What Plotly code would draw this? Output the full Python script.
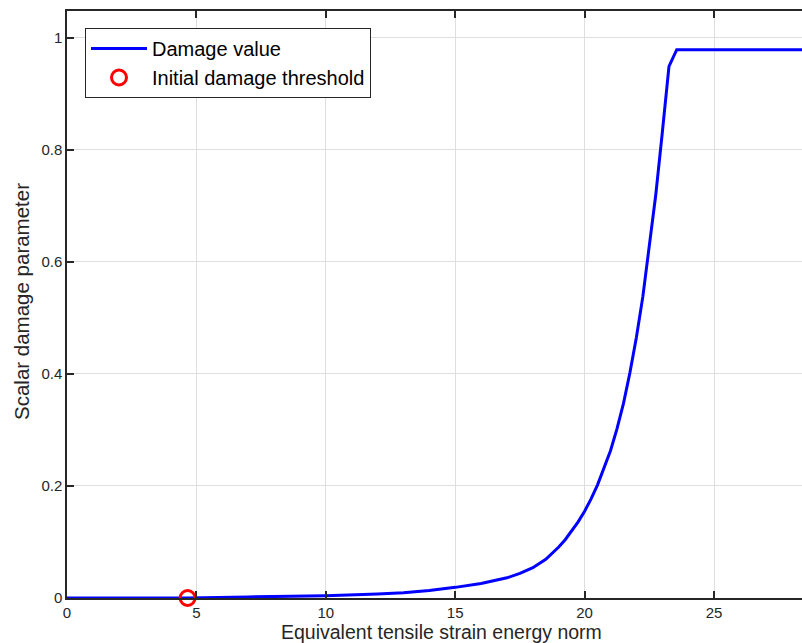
import plotly.graph_objects as go

# Data
strain_norm = [0, 4.66, 7, 10, 12, 13, 14, 15, 16, 17, 17.5, 18, 18.5,
               19, 19.25, 19.5, 19.75, 20, 20.25, 20.5, 20.75, 21, 21.25, 21.5, 21.75,
               22, 22.25, 22.5, 22.75, 23, 23.13, 23.26, 23.56, 28.6]
damage = [0, 0, 0.002, 0.004, 0.007, 0.0095, 0.0135, 0.019, 0.026, 0.036, 0.044, 0.054, 0.069,
          0.091, 0.104, 0.119, 0.136, 0.155, 0.177, 0.202, 0.231, 0.263, 0.302, 0.347, 0.402,
          0.465, 0.538, 0.625, 0.72, 0.83, 0.89, 0.949, 0.979, 0.979]
threshold_x = [4.66]
threshold_y = [0]

x_ticks = [0, 5, 10, 15, 20, 25]
y_ticks = [0, 0.2, 0.4, 0.6, 0.8, 1]
y_tick_labels = ["0", "0.2", "0.4", "0.6", "0.8", "1"]

W, H = 802, 643
ML, MR, MT, MB = 67, 0, 11, 45
PW, PH = W - ML - MR, H - MT - MB
axis_col = "#262626"
font = "Liberation Sans, Arial, Helvetica, sans-serif"

fig = go.Figure()
fig.add_trace(go.Scatter(x=strain_norm, y=damage, mode="lines", name="Damage value",
                         line=dict(color="#0000FF", width=3)))
fig.add_trace(go.Scatter(x=threshold_x, y=threshold_y, mode="markers",
                         name="Initial damage threshold",
                         marker=dict(symbol="circle-open", size=15, color="#FF0000",
                                     line=dict(width=3, color="#FF0000")),
                         cliponaxis=False))

fig.update_layout(
    width=W, height=H,
    margin=dict(l=ML, r=MR, t=MT, b=MB),
    paper_bgcolor="white", plot_bgcolor="white",
    font=dict(family=font, color=axis_col, size=15),
    showlegend=True,
    legend=dict(x=(85 - ML) / PW, y=1 - (28 - MT) / PH,
                xanchor="left", yanchor="top",
                bgcolor="white", bordercolor=axis_col, borderwidth=1,
                font=dict(size=20, color="black"),
                tracegroupgap=0, itemwidth=56),
    xaxis=dict(range=[0, 28.4], tickvals=x_ticks, ticktext=[str(t) for t in x_ticks],
               showgrid=True, gridcolor="#dedede", gridwidth=1,
               showline=True, linecolor=axis_col, linewidth=1.5, mirror="ticks",
               ticks="inside", ticklen=7, tickcolor=axis_col, tickwidth=1.5,
               ticklabelstandoff=0,
               tickfont=dict(size=15, color=axis_col), zeroline=False),
    yaxis=dict(range=[0, 1.048], tickvals=y_ticks, ticktext=y_tick_labels,
               showgrid=True, gridcolor="#dedede", gridwidth=1,
               showline=True, linecolor=axis_col, linewidth=1.5, mirror=False,
               ticks="inside", ticklen=7, tickcolor=axis_col, tickwidth=1.5,
               tickfont=dict(size=15, color=axis_col), zeroline=False),
    annotations=[
        dict(text="Equivalent tensile strain energy norm", xref="paper", yref="paper",
             x=(441 - ML) / PW, y=-(632 - 598) / PH,
             xanchor="center", yanchor="middle", showarrow=False, borderpad=0,
             font=dict(size=19.5, color=axis_col)),
        dict(text="Scalar damage parameter", xref="paper", yref="paper",
             x=-(ML - 21) / PW, y=1 - (302 - MT) / PH,
             xanchor="center", yanchor="middle", textangle=-90, showarrow=False,
             font=dict(size=20.5, color=axis_col)),
    ],
)

fig.write_html("out.html")
